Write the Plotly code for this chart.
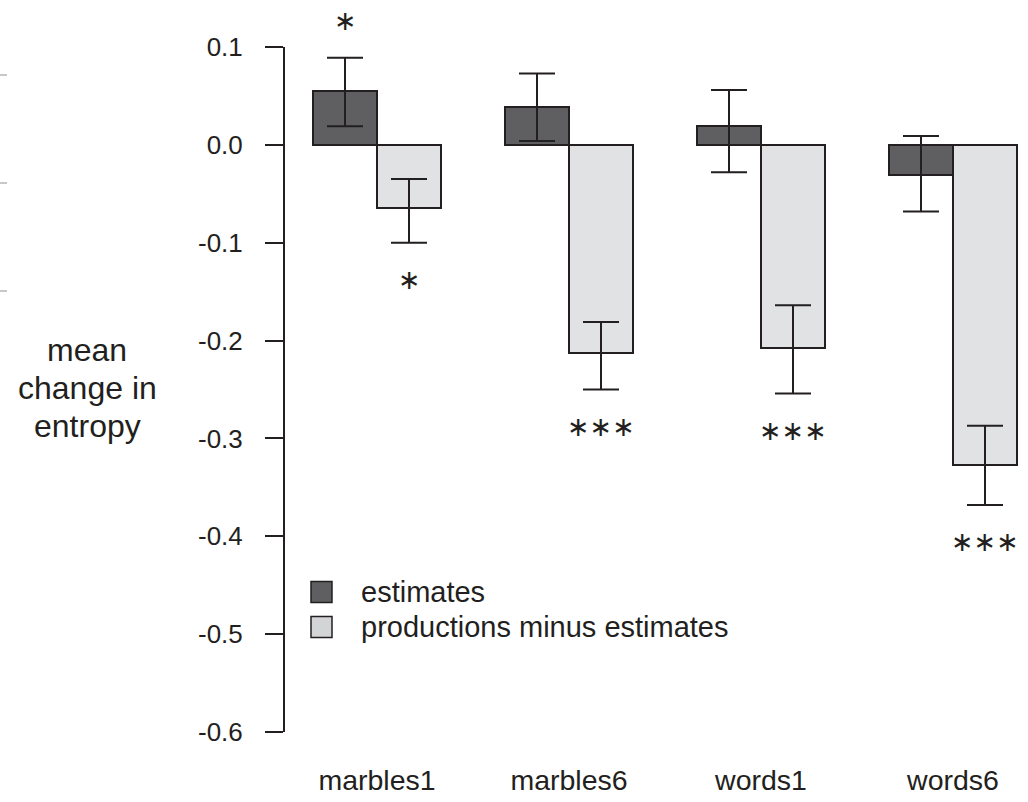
import plotly.graph_objects as go

# ---------------- data ----------------
categories = ["marbles1", "marbles6", "words1", "words6"]
estimates = [0.055, 0.039, 0.019, -0.031]
estimates_err_up = [0.034, 0.034, 0.037, 0.040]
estimates_err_down = [0.036, 0.035, 0.047, 0.037]
prod_minus_est = [-0.065, -0.213, -0.208, -0.327]
prod_err_up = [0.030, 0.032, 0.044, 0.040]
prod_err_down = [0.035, 0.037, 0.046, 0.041]
stars_estimates = ["*", "", "", ""]
stars_prod = ["*", "***", "***", "***"]
y_ticks = [0.1, 0.0, -0.1, -0.2, -0.3, -0.4, -0.5, -0.6]
series_names = ["estimates", "productions minus estimates"]
y_title_lines = ["mean", "change in", "entropy"]

# ---------------- styling ----------------
INK = "#231f20"
DARK = "#5f5f61"
LIGHT = "#e1e2e4"
LIGHT_LEG = "#d3d4d6"
FONT = "Liberation Sans, Arial, sans-serif"

W, H = 1028, 802
L, R, T, B = 285, 1024, 47, 732
BAR_PX = 64.0
FIRST_BAR_LEFT_PX = 313.0


def px2x(px):
    return (px - L) / (R - L)


def py2y(py):
    return (B - py) / (B - T)


# bar layout: groups of two bars (width 1) separated by a gap of 1
dark_x = [3 * i + 1.5 for i in range(len(categories))]
light_x = [3 * i + 2.5 for i in range(len(categories))]
group_x = [3 * i + 2.0 for i in range(len(categories))]
x_lo = 1 + (L - FIRST_BAR_LEFT_PX) / BAR_PX
x_hi = 1 + (R - FIRST_BAR_LEFT_PX) / BAR_PX

fig = go.Figure()
fig.add_trace(go.Bar(
    x=dark_x, y=estimates, width=1.0, name=series_names[0],
    marker=dict(color=DARK, line=dict(color=INK, width=2)),
    error_y=dict(type="data", symmetric=False, array=estimates_err_up,
                 arrayminus=estimates_err_down, color=INK, thickness=2, width=18),
    showlegend=False,
))
fig.add_trace(go.Bar(
    x=light_x, y=prod_minus_est, width=1.0, name=series_names[1],
    marker=dict(color=LIGHT, line=dict(color=INK, width=2)),
    error_y=dict(type="data", symmetric=False, array=prod_err_up,
                 arrayminus=prod_err_down, color=INK, thickness=2, width=18),
    showlegend=False,
))

annotations = []


def add_stars(xv, yv, s, yshift):
    annotations.append(dict(
        x=xv, y=yv, xref="x", yref="y", text=s.replace("*", "∗"),
        showarrow=False, xanchor="center", yanchor="middle", yshift=yshift,
        font=dict(family="DejaVu Sans", size=27, color=INK)))


# significance stars
for xv, v, up, s in zip(dark_x, estimates, estimates_err_up, stars_estimates):
    if s:
        add_stars(xv, v + up, s, 37)
for xv, v, dn, s in zip(light_x, prod_minus_est, prod_err_down, stars_prod):
    if s:
        add_stars(xv, v - dn, s, -37)

# y axis title (horizontal, three lines)
for line, cy in zip(y_title_lines, [352, 390, 428]):
    annotations.append(dict(
        x=px2x(87), y=py2y(cy - 2.5), xref="paper", yref="paper",
        text=line, showarrow=False,
        xanchor="center", yanchor="middle", align="center",
        font=dict(family=FONT, size=32, color=INK)))

# legend (drawn manually so the key squares match the reference size)
shapes = []
leg_rows = [592, 627]
leg_fills = [DARK, LIGHT_LEG]
for name, cy, fill in zip(series_names, leg_rows, leg_fills):
    shapes.append(dict(
        type="rect", xref="paper", yref="paper",
        x0=px2x(311), x1=px2x(332), y0=py2y(cy + 10.5), y1=py2y(cy - 10.5),
        fillcolor=fill, line=dict(color=INK, width=1.5)))
    annotations.append(dict(
        x=px2x(359), y=py2y(cy), xref="paper", yref="paper", text=name,
        showarrow=False, xanchor="left", yanchor="middle",
        font=dict(family=FONT, size=29, color=INK)))

# faint marks at the left edge of the reference image
for py in [75, 183, 291]:
    shapes.append(dict(
        type="line", xref="paper", yref="paper",
        x0=px2x(0), x1=px2x(7), y0=py2y(py), y1=py2y(py),
        line=dict(color="#c8c8c8", width=2)))

fig.update_layout(
    width=W, height=H,
    margin=dict(l=L, r=W - R, t=T, b=H - B, autoexpand=False),
    paper_bgcolor="white", plot_bgcolor="white",
    font=dict(family=FONT, size=28, color=INK),
    barmode="overlay", bargap=0,
    showlegend=False,
    annotations=annotations, shapes=shapes,
    xaxis=dict(
        range=[x_lo, x_hi], showgrid=False, zeroline=False, showline=False,
        ticks="", tickmode="array", tickvals=group_x, ticktext=categories,
        tickfont=dict(family=FONT, size=28.5, color=INK),
        ticklabelstandoff=28, fixedrange=True,
    ),
    yaxis=dict(
        range=[-0.6, 0.1], showgrid=False, zeroline=False,
        showline=True, linecolor=INK, linewidth=2,
        ticks="outside", ticklen=18, tickwidth=2, tickcolor=INK,
        tickmode="array", tickvals=y_ticks,
        ticktext=[f"{v:.1f}" if abs(v) > 1e-9 else "0.0" for v in y_ticks],
        tickfont=dict(family=FONT, size=26, color=INK),
        ticklabelstandoff=17, fixedrange=True,
    ),
)

fig.write_html("out.html")
